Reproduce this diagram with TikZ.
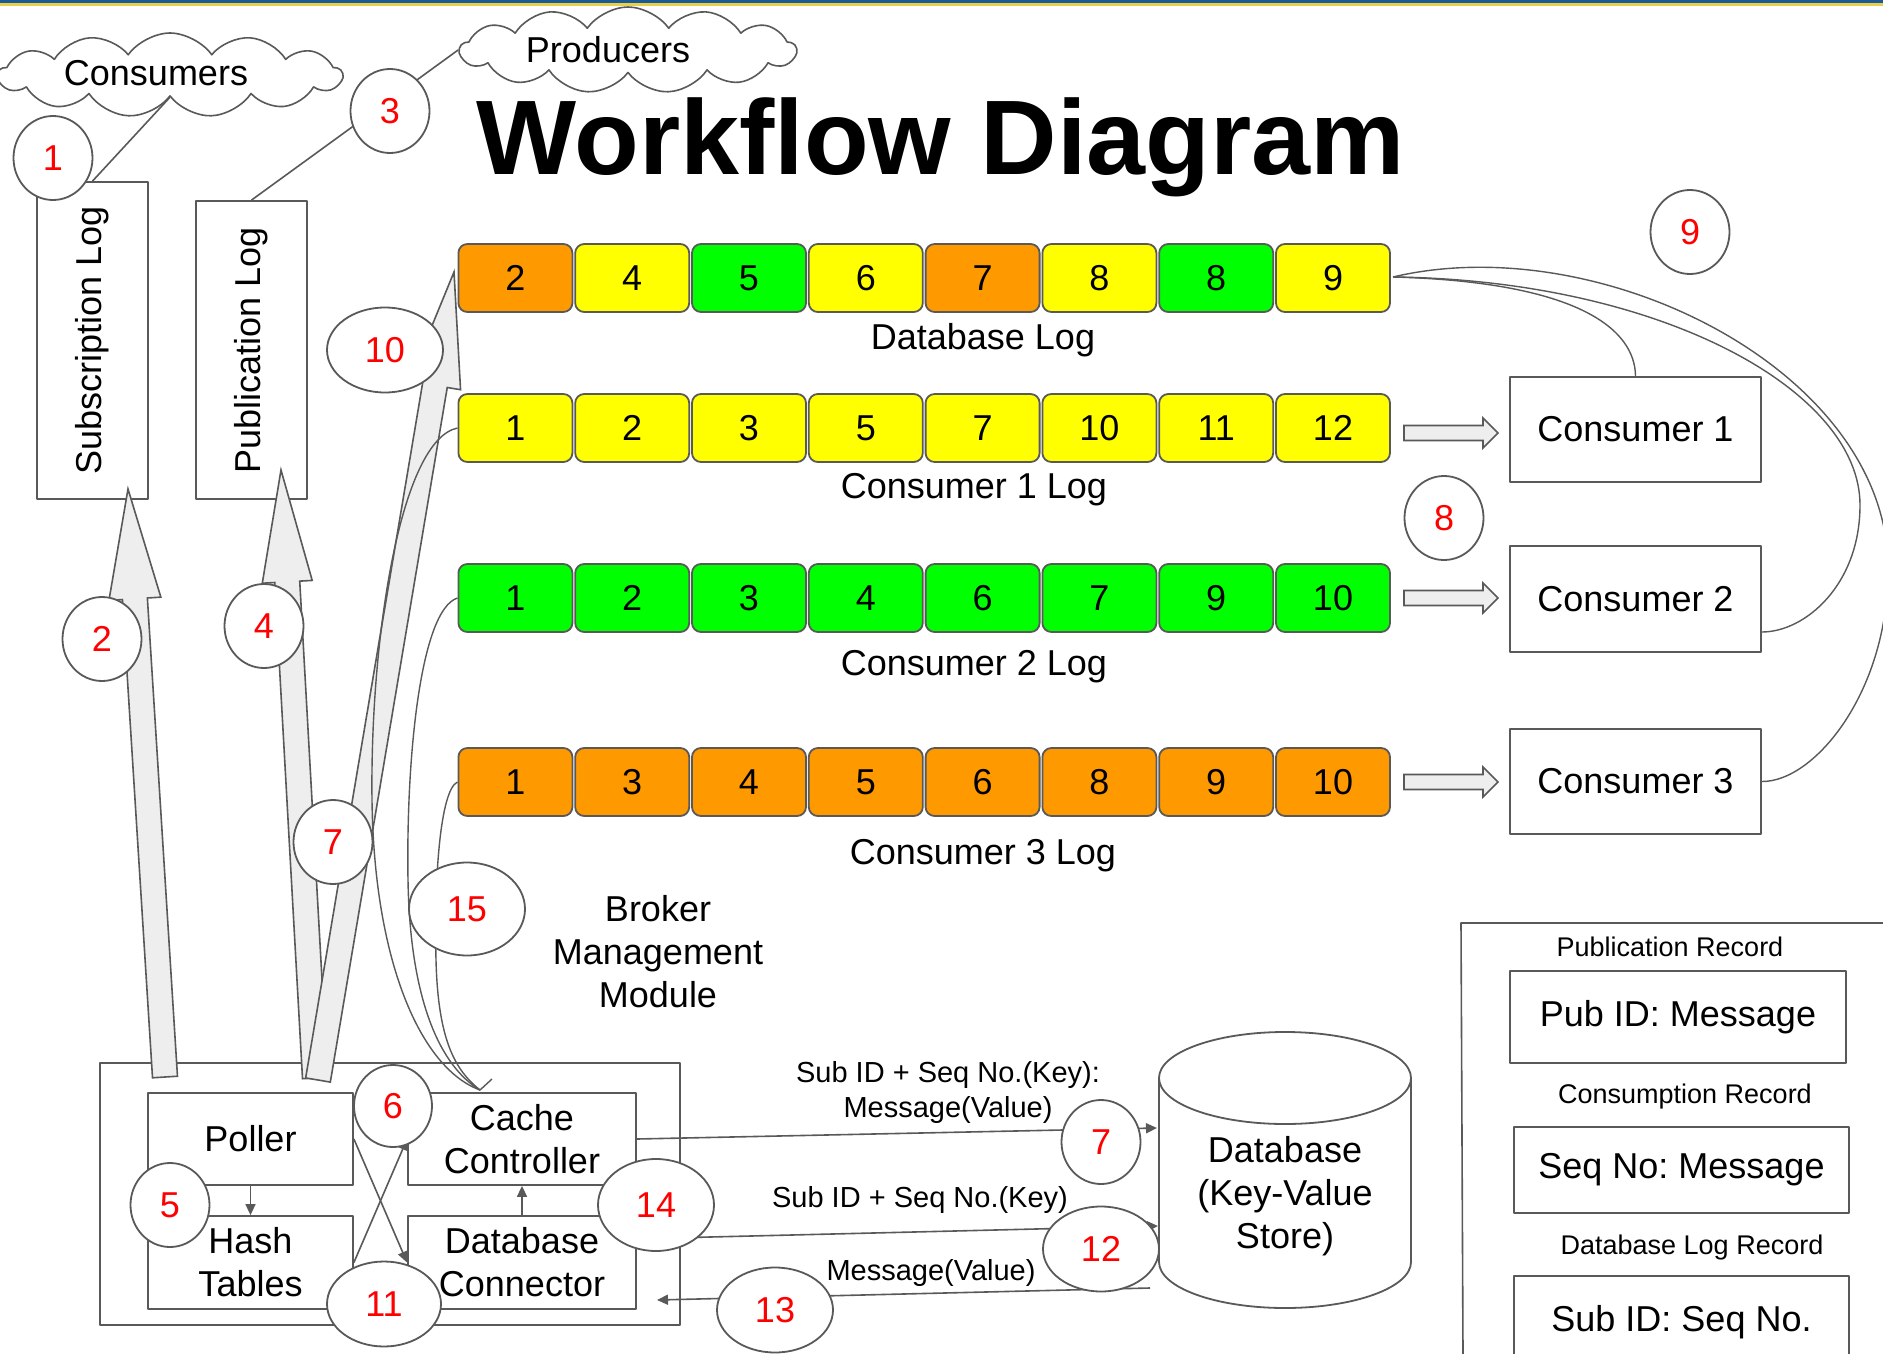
\documentclass[tikz,border=0pt]{standalone}
\usepackage{fontspec}
\setmainfont{Liberation Sans}
\usetikzlibrary{shapes.symbols,shapes.geometric,calc,arrows.meta}

\definecolor{edge}{HTML}{595959}
\definecolor{cellorange}{HTML}{FF9900}
\definecolor{cellyellow}{HTML}{FFFF00}
\definecolor{cellgreen}{HTML}{00FF00}
\definecolor{arrowfill}{HTML}{EEEEEE}
\definecolor{stepred}{HTML}{FF0000}
\definecolor{bandblue}{HTML}{1B5A96}
\definecolor{bandyellow}{HTML}{E9CF4A}

% wide block arrow: tail, tip, shaft half-width, head half-width, head length
\newcommand\blockarrow[5]{%
  \coordinate (bahead) at ($(#2)!#5!(#1)$);
  \filldraw[arrowbody]
    ($(#1)!#3!90:(#2)$) -- ($(bahead)!#3!90:(#2)$) -- ($(bahead)!#4!90:(#2)$)
    -- (#2) -- ($(bahead)!#4!-90:(#2)$) -- ($(bahead)!#3!-90:(#2)$)
    -- ($(#1)!#3!-90:(#2)$) -- cycle;}

\begin{document}
\frenchspacing
\begin{tikzpicture}[x=1pt,y=-1pt,line join=round,
  every node/.style={font=\fontsize{36}{43}\selectfont\frenchspacing},
  cell/.style={draw=edge,line width=1.8pt,rounded corners=9pt,minimum width=114pt,minimum height=68pt,inner sep=0pt},
  plainbox/.style={draw=edge,line width=1.8pt,fill=white,inner sep=0pt,align=center},
  stepno/.style={ellipse,draw=edge,line width=1.8pt,fill=white,text=stepred,inner sep=0pt,minimum width=79pt,minimum height=84pt},
  widestep/.style={stepno,minimum width=116pt,minimum height=85pt},
  conn/.style={draw=edge,line width=1.6pt},
  headtip/.style={-{Triangle[length=11pt,width=10pt]}},
  arrowbody/.style={fill=arrowfill,draw=edge,line width=1.6pt,line join=miter},
  smalltext/.style={font=\fontsize{27}{32}\selectfont\frenchspacing},
  edgetext/.style={font=\fontsize{29}{35}\selectfont\frenchspacing,align=center},
  cloudy/.style={cloud,draw=edge,line width=1.6pt,fill=white,cloud puffs=13,cloud puff arc=110,aspect=4,inner sep=0pt}]

\useasboundingbox (0,0) rectangle (1883,1354);
\clip (0,0) rectangle (1883,1354);
\fill[white] (0,0) rectangle (1883,1354);

% header band
\fill[bandblue] (0,0) rectangle (1883,3);
\fill[bandyellow] (0,3) rectangle (1883,6);

% clouds
\node[cloudy,minimum width=344pt,minimum height=84pt] (consumers) at (170,75) {};
\node at (156,73) {Consumers};
\node[cloudy,minimum width=336pt,minimum height=86pt] (producers) at (628,50) {};
\node at (608,50) {Producers};

% title
\node[anchor=base west,inner sep=0pt,font=\bfseries\fontsize{106}{120}\selectfont] (title) at (476,174) {Workflow Diagram};

% subscription / publication logs
\node[plainbox,minimum width=111pt,minimum height=317pt] (sublog) at (92.5,340.5) {};
\node[rotate=90] at (sublog) {Subscription Log};
\node[plainbox,minimum width=111pt,minimum height=298pt] (publog) at (251.5,350) {};
\node[rotate=90] at (publog) {Publication Log};
\draw[conn] (consumers.south) -- (sublog.north);
\draw[conn] (producers.west) -- (publog.north);

% broker management module
\node[plainbox,minimum width=580pt,minimum height=262pt] (broker) at (390,1194) {};
\node[plainbox,minimum width=205pt,minimum height=92pt] (poller) at (250.5,1139) {Poller};
\node[plainbox,minimum width=205pt,minimum height=93pt] (hash) at (250.5,1262.5) {Hash\\Tables};
\node[plainbox,minimum width=228pt,minimum height=92pt] (cache) at (522,1139) {Cache\\Controller};
\node[plainbox,minimum width=228pt,minimum height=93pt] (dbconn) at (522,1262.5) {Database\\Connector};
\draw[conn,headtip] (poller.south) -- (hash.north);
\draw[conn,headtip] (dbconn.north) -- (cache.south);
\draw[conn,headtip] (poller.east) -- (dbconn.west);
\draw[conn,headtip] (hash.east) -- (cache.west);
\node[align=center] at (658,952) {Broker\\Management\\Module};

% wide arrows out of the broker
\coordinate (a4t) at (315,1078); \coordinate (a4h) at (281,470);
\blockarrow{a4t}{a4h}{12.5pt}{25pt}{112pt}
\coordinate (a2t) at (165,1077); \coordinate (a2h) at (128,489);
\blockarrow{a2t}{a2h}{12.5pt}{26pt}{110pt}
\coordinate (a10t) at (318,1080); \coordinate (a10h) at (454,272);
\blockarrow{a10t}{a10h}{12.5pt}{26pt}{115pt}

% log rows
\foreach \v/\c [count=\i from 0] in {2/cellorange,4/cellyellow,5/cellgreen,6/cellyellow,7/cellorange,8/cellyellow,8/cellgreen,9/cellyellow}
  \node[cell,fill=\c] (dblog\i) at ({515.4+116.8*\i},278) {\v};
\foreach \v [count=\i from 0] in {1,2,3,5,7,10,11,12}
  \node[cell,fill=cellyellow] (clogA\i) at ({515.4+116.8*\i},428) {\v};
\foreach \v [count=\i from 0] in {1,2,3,4,6,7,9,10}
  \node[cell,fill=cellgreen] (clogB\i) at ({515.4+116.8*\i},598) {\v};
\foreach \v [count=\i from 0] in {1,3,4,5,6,8,9,10}
  \node[cell,fill=cellorange] (clogC\i) at ({515.4+116.8*\i},782) {\v};
\node at (983,340) {Database Log};
\node at (974,490) {Consumer 1 Log};
\node at (974,667) {Consumer 2 Log};
\node at (983,856) {Consumer 3 Log};

% cache controller feeding the consumer logs
\coordinate (cachein) at (480,1090);
\draw[conn,line width=1.4pt] (clogA0.west) .. controls (400,440) and (370,640) .. (372,800) .. controls (374,960) and (420,1068) .. (cachein);
\draw[conn,line width=1.4pt] (clogB0.west) .. controls (420,610) and (406,760) .. (408,880) .. controls (410,1000) and (440,1066) .. (cachein);
\draw[conn,line width=1.4pt] (clogC0.west) .. controls (440,790) and (434,880) .. (436,960) .. controls (438,1040) and (455,1070) .. (cachein);
\draw[conn,line width=1.4pt] (cachein) -- (492,1079);

% consumers
\node[plainbox,minimum width=251pt,minimum height=105pt] (cons1) at (1635.5,429.5) {Consumer 1};
\node[plainbox,minimum width=251pt,minimum height=106pt] (cons2) at (1635.5,599) {Consumer 2};
\node[plainbox,minimum width=251pt,minimum height=105pt] (cons3) at (1635.5,781.5) {Consumer 3};
\coordinate (f1t) at (1404,433); \coordinate (f1h) at (1498,433);
\blockarrow{f1t}{f1h}{7.5pt}{15pt}{15pt}
\coordinate (f2t) at (1404,598); \coordinate (f2h) at (1498,598);
\blockarrow{f2t}{f2h}{7.5pt}{15pt}{15pt}
\coordinate (f3t) at (1404,782); \coordinate (f3h) at (1498,782);
\blockarrow{f3t}{f3h}{7.5pt}{15pt}{15pt}

% database log read back by the consumers
\coordinate (dbend) at (1393,277);
\draw[conn,line width=1.4pt] (dbend) .. controls (1580,282) and (1635,330) .. (cons1.north);
\draw[conn,line width=1.4pt] (dbend) .. controls (1660,280) and (1860,390) .. (1860,505) .. controls (1860,585) and (1805,632) .. ($(cons2.east)+(0,33)$);
\draw[conn,line width=1.4pt] (dbend) .. controls (1600,228) and (1885,370) .. (1888,565) .. controls (1890,690) and (1815,782) .. (cons3.east);

% key-value store
\filldraw[fill=white,draw=edge,line width=1.8pt] (1159,1078) -- (1159,1262) arc[start angle=180,end angle=0,x radius=126,y radius=46] -- (1411,1078) -- cycle;
\filldraw[fill=white,draw=edge,line width=1.8pt] (1285,1078) ellipse [x radius=126,y radius=46];
\node[align=center] (dbstore) at (1285,1196) {Database\\(Key-Value\\Store)};

% broker <-> store traffic
\coordinate (dbin1) at (1157,1128);
\coordinate (dbin2) at (1158,1226);
\coordinate (dbout3) at (1150,1288);
\coordinate (bmin3) at (657,1300);
\draw[conn,headtip] (cache.east) -- (dbin1);
\draw[conn,headtip] ($(dbconn.north east)!0.25!(dbconn.south east)$) -- (dbin2);
\draw[conn,headtip] (dbout3) -- (bmin3);
\node[edgetext] at (948,1092) {Sub ID + Seq No.(Key):\\Message(Value)};
\node[edgetext] at (920,1200) {Sub ID + Seq No.(Key)};
\node[edgetext] at (931,1273) {Message(Value)};

% record formats
\draw[conn] (1883,923) -- (1461,923) -- (1463,1354);
\node[smalltext] at (1670,947) {Publication Record};
\node[plainbox,minimum width=336pt,minimum height=92pt] (pubrec) at (1678,1017) {Pub ID: Message};
\node[smalltext] at (1685,1097) {Consumption Record};
\node[plainbox,minimum width=335pt,minimum height=86pt] (seqrec) at (1681.5,1170) {Seq No: Message};
\node[smalltext] at (1692,1248) {Database Log Record};
\node[plainbox,minimum width=335pt,minimum height=92pt] (subrec) at (1681.5,1322) {Sub ID: Seq No.};

% step numbers
\node[stepno] at (53,158) {1};
\node[stepno] at (102,639) {2};
\node[stepno] at (390,111) {3};
\node[stepno] at (264,626) {4};
\node[stepno] at (170,1205) {5};
\node[stepno,minimum width=78pt,minimum height=82pt] at (393,1106) {6};
\node[stepno] at (333,842) {7};
\node[stepno] at (1101,1142) {7};
\node[stepno] at (1444,518) {8};
\node[stepno] at (1690,232) {9};
\node[widestep] at (385,350) {10};
\node[widestep,minimum width=114pt] at (384,1304) {11};
\node[widestep] at (1101,1249) {12};
\node[widestep] at (775,1310) {13};
\node[widestep,minimum height=92pt] at (656,1205) {14};
\node[widestep,minimum height=93pt] at (467,909) {15};
\end{tikzpicture}
\end{document}
